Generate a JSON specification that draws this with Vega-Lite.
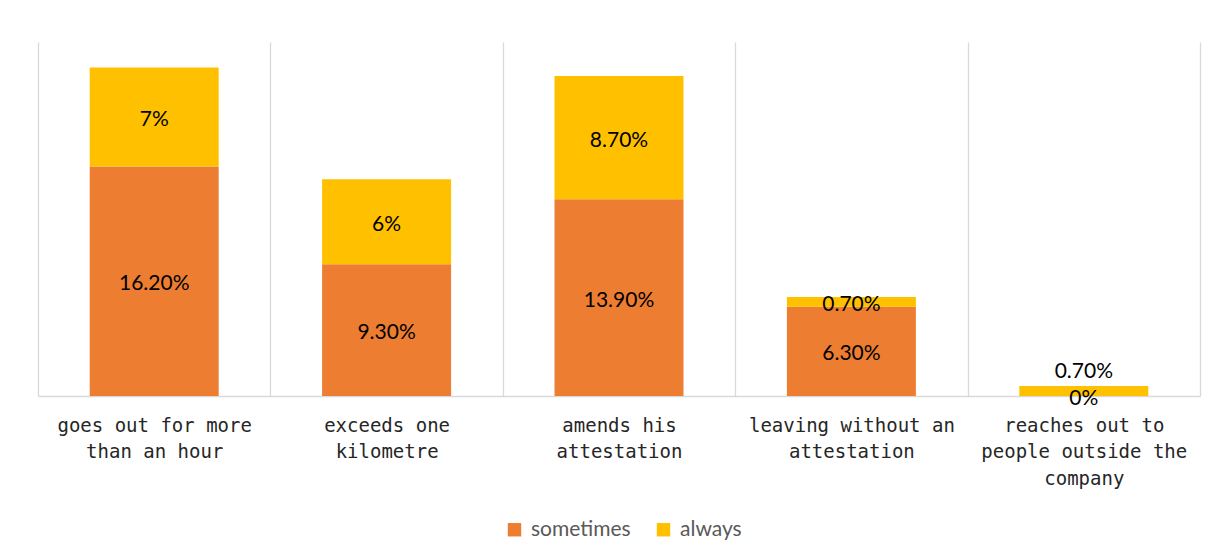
{
  "$schema": "https://vega.github.io/schema/vega-lite/v6.json",
  "width": 1162,
  "height": 354,
  "autosize": {"type": "none"},
  "padding": {"left": 38, "top": 42, "right": 23, "bottom": 162},
  "background": "white",
  "config": {"view": {"stroke": null}},
  "data": {
    "values": [
      {"category": "goes out for more|than an hour", "series": "sometimes", "order": 1, "value": 16.2, "label": "16.20%"},
      {"category": "goes out for more|than an hour", "series": "always", "order": 2, "value": 7.0, "label": "7%"},
      {"category": "exceeds one|kilometre", "series": "sometimes", "order": 1, "value": 9.3, "label": "9.30%"},
      {"category": "exceeds one|kilometre", "series": "always", "order": 2, "value": 6.0, "label": "6%"},
      {"category": "amends his|attestation", "series": "sometimes", "order": 1, "value": 13.9, "label": "13.90%"},
      {"category": "amends his|attestation", "series": "always", "order": 2, "value": 8.7, "label": "8.70%"},
      {"category": "leaving without an|attestation", "series": "sometimes", "order": 1, "value": 6.3, "label": "6.30%"},
      {"category": "leaving without an|attestation", "series": "always", "order": 2, "value": 0.7, "label": "0.70%"},
      {"category": "reaches out to|people outside the|company", "series": "sometimes", "order": 1, "value": 0.0, "label": "0%"},
      {"category": "reaches out to|people outside the|company", "series": "always", "order": 2, "value": 0.7, "label": "0.70%"}
    ]
  },
  "transform": [
    {"stack": "value", "groupby": ["category"], "sort": [{"field": "order"}], "as": ["v0", "v1"]},
    {"calculate": "(datum.v0 + datum.v1) / 2", "as": "mid"}
  ],
  "encoding": {
    "x": {
      "field": "category",
      "type": "nominal",
      "sort": null,
      "scale": {"paddingInner": 0, "paddingOuter": 0},
      "axis": {
        "title": null,
        "labelAngle": 0,
        "labelExpr": "split(datum.label, '|')",
        "labelFont": "DejaVu Sans Mono",
        "labelFontSize": 19,
        "labelColor": "#262626",
        "labelLineHeight": 26.5,
        "labelBaseline": "top",
        "labelPadding": 20,
        "labelLimit": 300,
        "ticks": false,
        "tickBand": "extent",
        "grid": true,
        "gridColor": "#D9D9D9",
        "gridWidth": 1.3,
        "domainColor": "#D9D9D9",
        "domainWidth": 1.3
      }
    }
  },
  "layer": [
    {
      "mark": {"type": "bar", "width": {"band": 0.555}},
      "encoding": {
        "y": {"field": "v0", "type": "quantitative", "scale": {"domain": [0, 25], "nice": false}, "axis": null},
        "y2": {"field": "v1"},
        "color": {
          "field": "series",
          "type": "nominal",
          "scale": {"domain": ["sometimes", "always"], "range": ["#ED7D31", "#FFC000"]},
          "legend": {
            "title": null,
            "orient": "none",
            "legendX": 466,
            "legendY": 477,
            "direction": "horizontal",
            "symbolType": "square",
            "symbolSize": 180,
            "symbolStrokeWidth": 0,
            "labelFont": "Lato",
            "labelFontSize": 21,
            "labelColor": "#595959",
            "labelOffset": 6,
            "columnPadding": 22
          }
        }
      }
    },
    {
      "transform": [{"filter": "!(datum.series == 'always' && datum.value < 1 && datum.v0 == 0)"}],
      "mark": {"type": "text", "font": "Lato", "fontSize": 21, "color": "#000000", "dy": 3},
      "encoding": {
        "y": {"field": "mid", "type": "quantitative"},
        "text": {"field": "label"}
      }
    },
    {
      "transform": [{"filter": "datum.series == 'always' && datum.value < 1 && datum.v0 == 0"}],
      "mark": {"type": "text", "font": "Lato", "fontSize": 21, "color": "#000000", "dy": -19},
      "encoding": {
        "y": {"field": "mid", "type": "quantitative"},
        "text": {"field": "label"}
      }
    }
  ]
}
